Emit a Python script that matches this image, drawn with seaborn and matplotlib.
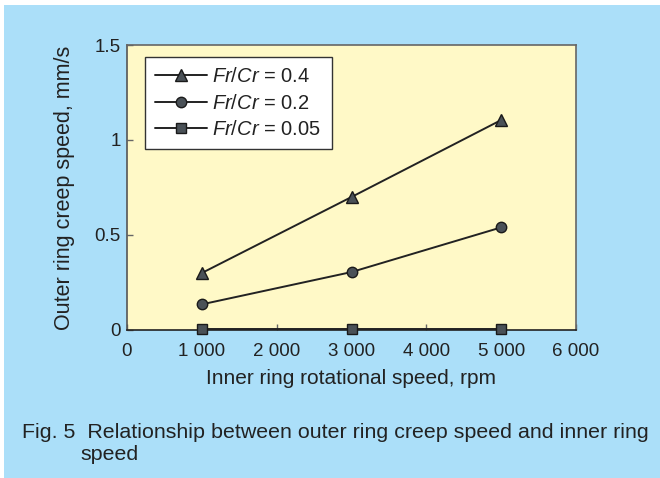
import matplotlib
matplotlib.use("Agg")
import matplotlib.pyplot as plt
import seaborn as sns
import pandas as pd
from matplotlib.patches import Rectangle

speeds = [1000, 3000, 5000]
s04 = [0.30, 0.70, 1.105]
s02 = [0.135, 0.305, 0.54]
s005 = [0.005, 0.005, 0.005]
labels = ["0.4", "0.2", "0.05"]
xticks = [0, 1000, 2000, 3000, 4000, 5000, 6000]
xticklabels = ["0", "1 000", "2 000", "3 000", "4 000", "5 000", "6 000"]
yticks = [0, 0.5, 1, 1.5]
yticklabels = ["0", "0.5", "1", "1.5"]

sns.set_style("ticks")
plt.rcParams["font.family"] = ["Liberation Sans", "DejaVu Sans"]
plt.rcParams["mathtext.fontset"] = "custom"
plt.rcParams["mathtext.it"] = "Liberation Sans:italic"
plt.rcParams["mathtext.rm"] = "Liberation Sans"

rows = []
for lab, vals in zip(labels, [s04, s02, s005]):
    for x, y in zip(speeds, vals):
        rows.append({"speed": x, "creep": y, "ratio": lab})
df = pd.DataFrame(rows)

fig = plt.figure(figsize=(6.6, 4.78), dpi=100)
fig.patch.set_facecolor("white")
fig.patches.append(Rectangle((4 / 660, 0), 1, 1 - 5 / 478, transform=fig.transFigure,
                             facecolor="#abdff9", edgecolor="none", zorder=-10))
ax = fig.add_axes([127 / 660, 1 - 330 / 478, (576 - 127) / 660, (330 - 45) / 478])
ax.set_facecolor("#fff9c7")

markers = {"0.4": "^", "0.2": "o", "0.05": "s"}
sizes = {"0.4": 9, "0.2": 7.5, "0.05": 7}
for lab in labels:
    sub = df[df["ratio"] == lab]
    sns.lineplot(data=sub, x="speed", y="creep", ax=ax, color="#222222", lw=1.4,
                 marker=markers[lab], markersize=sizes[lab], markerfacecolor="#4a5157",
                 markeredgecolor="#1a1a1a", markeredgewidth=1.0,
                 label=r"$\it{Fr/Cr}$ = " + lab, clip_on=False, zorder=5)

ax.set_xlim(0, 6000)
ax.set_ylim(0, 1.5)
ax.set_xticks(xticks)
ax.set_xticklabels(xticklabels)
ax.set_yticks(yticks)
ax.set_yticklabels(yticklabels)
ax.tick_params(direction="in", length=4, width=1, color="#666666", labelsize=13.5,
               labelcolor="#222222", pad=9)
ax.tick_params(axis="y", pad=4.5)
for s in ax.spines.values():
    s.set_color("#666666")
    s.set_linewidth(1.2)
ax.spines["bottom"].set_color("#222222")
ax.spines["left"].set_color("#555555")
ax.set_xlabel("Inner ring rotational speed, rpm", fontsize=15, color="#222222", labelpad=7)
ax.set_ylabel("Outer ring creep speed, mm/s", fontsize=15.5, color="#222222", labelpad=14)

leg = ax.legend(loc="upper left", bbox_to_anchor=(18 / 449, 1 - 12 / 285), fontsize=14.5,
                frameon=True, fancybox=False, edgecolor="#333333", facecolor="white",
                framealpha=1, handlelength=2.6, handletextpad=0.25, labelspacing=0.38,
                borderpad=0.5, borderaxespad=0)
leg.get_frame().set_linewidth(1.0)
for t in leg.get_texts():
    t.set_color("#222222")

fig.text(22 / 660, 1 - 432 / 478, "Fig. 5  Relationship between outer ring creep speed and inner ring",
         fontsize=15.4, color="#222222", va="center", ha="left")
fig.text(80 / 660, 1 - 455 / 478, "speed", fontsize=15.4, color="#222222", va="center", ha="left")

fig.savefig("out.png", dpi=100)
